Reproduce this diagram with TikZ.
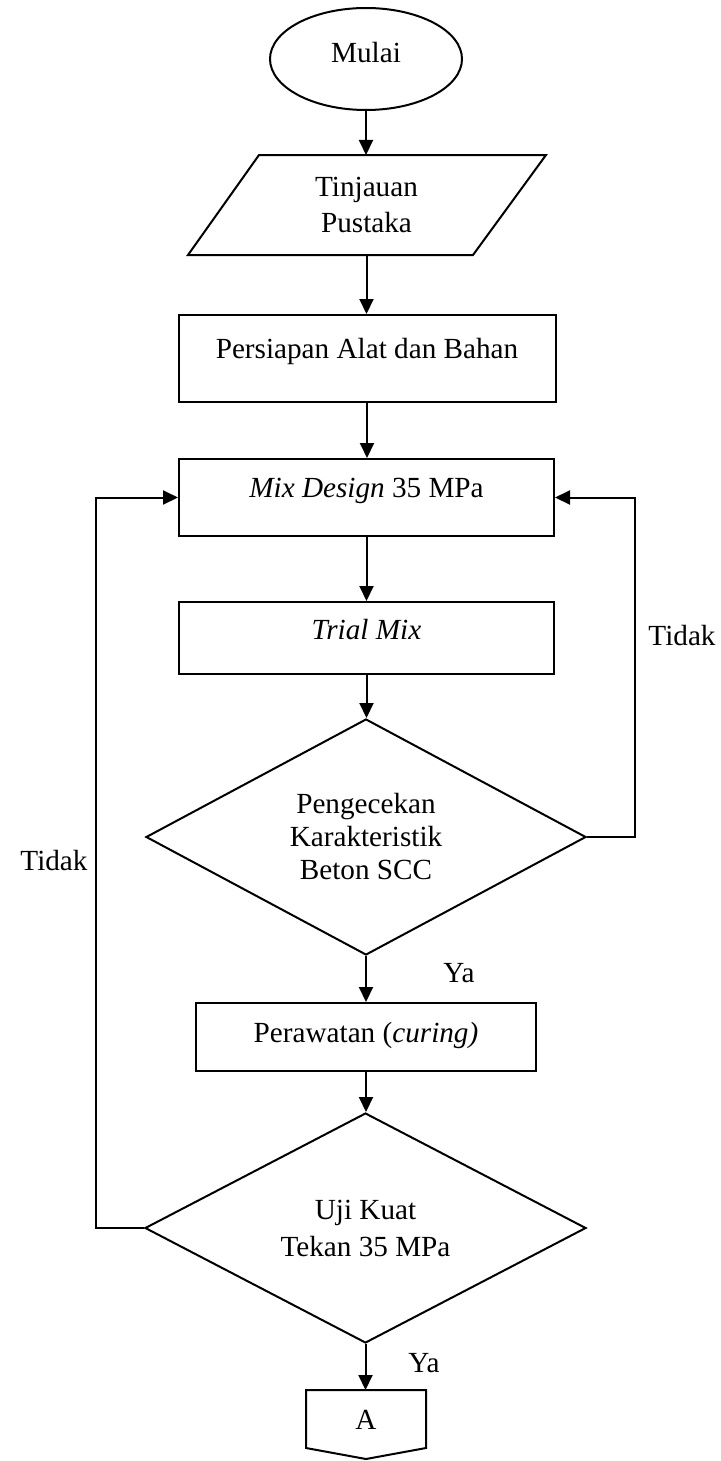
\documentclass[tikz,border=0pt]{standalone}
\usepackage{fontspec}
\setmainfont{Liberation Serif}
\usetikzlibrary{shapes.geometric,arrows.meta}
\begin{document}
\begin{tikzpicture}[x=0.5pt,y=-0.5pt,
  line width=1pt,
  every node/.style={font=\fontsize{14.6pt}{17.5pt}\selectfont, inner sep=0pt},
  flow/.style={draw, line width=1pt, -{Triangle[length=7.5pt,width=7pt]}},
  procbox/.style={draw, rectangle, line width=1pt},
  decision/.style={draw, diamond, aspect=1.9, align=center, line width=1pt},
  lbl/.style={anchor=base}]
\path[fill=white] (0,0) rectangle (721,1461);
\useasboundingbox (0,0) rectangle (721,1461);

% nodes
\node[ellipse, draw, minimum width=96pt, minimum height=51pt, text height=8pt, text depth=4pt] (start) at (366,59) {Mulai};
\node[rectangle, outer sep=0pt, minimum width=143.5pt, minimum height=50pt, align=center, font=\fontsize{14.6pt}{18pt}\selectfont] (lit) at (366.5,205) {Tinjauan\\Pustaka};
\draw (188,255) -- (259,155) -- (546,155) -- (473,255) -- cycle;
\node[procbox, minimum width=188.5pt, minimum height=43.5pt, text height=5pt, text depth=5pt] (prep) at (367,358.5) {Persiapan Alat dan Bahan};
\node[procbox, minimum width=187.5pt, minimum height=38.5pt, text height=5pt, text depth=5pt] (mix) at (366.5,497.5) {\textit{Mix Design} 35 MPa};
\node[procbox, minimum width=187.5pt, minimum height=36pt, text height=6pt, text depth=4.5pt] (trial) at (366.5,638) {\textit{Trial Mix}};
\node[decision, minimum width=220pt, minimum height=118pt, font=\fontsize{14.6pt}{16.5pt}\selectfont] (chk) at (366,837) {Pengecekan\\Karakteristik\\Beton SCC};
\node[procbox, minimum width=170pt, minimum height=34pt, text height=7.5pt, text depth=2.5pt] (cure) at (366,1037) {Perawatan (\textit{curing)}};
\node[decision, minimum width=220.5pt, minimum height=115pt, font=\fontsize{14.6pt}{18.5pt}\selectfont] (test) at (365.5,1228) {Uji Kuat\\Tekan 35 MPa};
\node[rectangle, outer sep=0pt, minimum width=60pt, minimum height=29pt, text height=10pt, text depth=0pt] (A) at (366,1419) {A};
\draw (A.north west) -- (A.north east) -- (A.south east) -- (366,1459) -- (A.south west) -- cycle;

% labels
\node[lbl] (tidakR) at (682,645) {Tidak};
\node[lbl] (tidakL) at (54,870) {Tidak};
\node[lbl] (ya1) at (459,982) {Ya};
\node[lbl] (ya2) at (424,1372) {Ya};

% connectors
\draw[flow] (start.south) -- (start.south |- lit.north);
\draw[flow] (lit.south) -- (lit.south |- prep.north);
\draw[flow] (prep.south) -- (prep.south |- mix.north);
\draw[flow] (mix.south) -- (mix.south |- trial.north);
\draw[flow] (trial.south) -- (trial.south |- chk.north);
\draw[flow] (chk.south) -- (chk.south |- cure.north);
\draw[flow] (cure.south) -- (cure.south |- test.north);
\draw[flow] (test.south) -- (test.south |- A.north);
\draw[flow] (chk.east) -- ++(48,0) |- (mix.east);
\draw[flow] (test.west) -- ++(-48.5,0) |- (mix.west);
\end{tikzpicture}
\end{document}
